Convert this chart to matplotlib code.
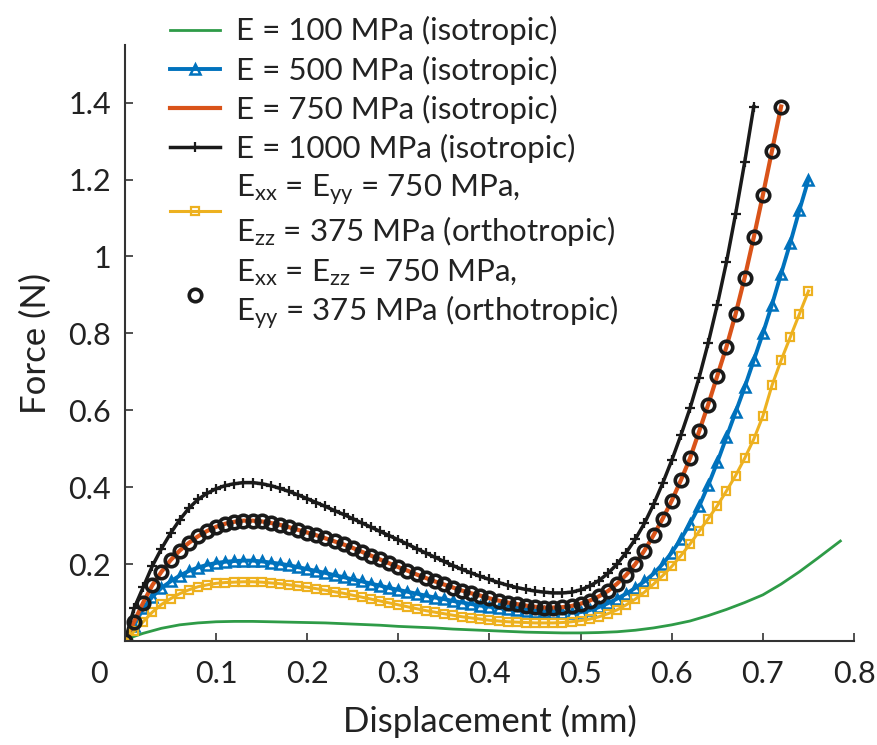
import matplotlib
matplotlib.use("Agg")
import matplotlib.pyplot as plt
import matplotlib.transforms as mtransforms

plt.rcParams['font.family'] = ['Lato', 'DejaVu Sans']
plt.rcParams['mathtext.default'] = 'regular'

# displacement grid (mm), read at 0.01 mm steps
x1000 = [round(0.01 * i, 2) for i in range(70)]
x750 = [round(0.01 * i, 2) for i in range(73)]
x500 = [round(0.01 * i, 2) for i in range(76)]
x_ortho = [round(0.01 * i, 2) for i in range(76)]

# E = 1000 MPa (isotropic)
f1000 = [0.0, 0.085, 0.14, 0.195, 0.24, 0.28, 0.315, 0.345, 0.368, 0.384,
         0.396, 0.404, 0.409, 0.412, 0.412, 0.409, 0.404, 0.397, 0.389, 0.380,
         0.370, 0.360, 0.350, 0.339, 0.329, 0.318, 0.307, 0.296, 0.285, 0.274,
         0.263, 0.252, 0.240, 0.229, 0.218, 0.207, 0.196, 0.186, 0.177, 0.168,
         0.160, 0.152, 0.145, 0.139, 0.134, 0.130, 0.127, 0.125, 0.125, 0.127,
         0.133, 0.143, 0.157, 0.176, 0.200, 0.230, 0.265, 0.306, 0.355, 0.41,
         0.47, 0.535, 0.605, 0.685, 0.775, 0.875, 0.985, 1.11, 1.245, 1.39]

# E = 750 MPa (isotropic) and Exx = Ezz = 750, Eyy = 375 (orthotropic)
f750 = [0.0, 0.05, 0.10, 0.145, 0.18, 0.21, 0.235, 0.255, 0.272, 0.286,
        0.297, 0.305, 0.310, 0.313, 0.313, 0.311, 0.307, 0.302, 0.296, 0.289,
        0.282, 0.275, 0.267, 0.259, 0.251, 0.242, 0.232, 0.222, 0.212, 0.202,
        0.192, 0.183, 0.173, 0.164, 0.155, 0.147, 0.139, 0.131, 0.124, 0.118,
        0.111, 0.105, 0.100, 0.096, 0.092, 0.089, 0.087, 0.087, 0.088, 0.091,
        0.097, 0.105, 0.116, 0.130, 0.149, 0.172, 0.200, 0.235, 0.275, 0.318,
        0.365, 0.418, 0.475, 0.545, 0.615, 0.69, 0.765, 0.85, 0.945, 1.05,
        1.16, 1.275, 1.39]

# E = 500 MPa (isotropic)
f500 = [0.0, 0.04, 0.085, 0.115, 0.138, 0.155, 0.17, 0.182, 0.191, 0.198,
        0.203, 0.206, 0.208, 0.209, 0.209, 0.207, 0.204, 0.201, 0.197, 0.192,
        0.187, 0.182, 0.177, 0.171, 0.166, 0.160, 0.155, 0.149, 0.144, 0.138,
        0.133, 0.128, 0.123, 0.118, 0.113, 0.109, 0.104, 0.100, 0.096, 0.092,
        0.089, 0.086, 0.083, 0.080, 0.078, 0.076, 0.075, 0.074, 0.074, 0.074,
        0.075, 0.08, 0.088, 0.098, 0.11, 0.123, 0.138, 0.155, 0.175, 0.2,
        0.23, 0.265, 0.305, 0.35, 0.405, 0.465, 0.53, 0.595, 0.66, 0.73,
        0.80, 0.875, 0.955, 1.035, 1.12, 1.20]

# Exx = Eyy = 750, Ezz = 375 (orthotropic)
f_ortho = [0.0, 0.025, 0.05, 0.075, 0.095, 0.11, 0.123, 0.133, 0.141, 0.146,
           0.150, 0.152, 0.153, 0.154, 0.154, 0.153, 0.151, 0.149, 0.146, 0.143,
           0.140, 0.136, 0.132, 0.128, 0.124, 0.119, 0.114, 0.109, 0.104, 0.099,
           0.094, 0.089, 0.084, 0.079, 0.075, 0.071, 0.067, 0.063, 0.060, 0.057,
           0.054, 0.052, 0.050, 0.049, 0.048, 0.047, 0.047, 0.047, 0.048, 0.050,
           0.053, 0.057, 0.063, 0.071, 0.081, 0.094, 0.109, 0.127, 0.148, 0.170,
           0.194, 0.222, 0.252, 0.285, 0.318, 0.352, 0.39, 0.43, 0.475, 0.525,
           0.585, 0.665, 0.73, 0.79, 0.85, 0.91]

# E = 100 MPa (isotropic)
x100 = [0.0, 0.01, 0.02, 0.04, 0.06, 0.08, 0.10, 0.12, 0.14, 0.16, 0.18, 0.20,
        0.22, 0.24, 0.26, 0.28, 0.30, 0.32, 0.34, 0.36, 0.38, 0.40, 0.42, 0.44,
        0.46, 0.48, 0.50, 0.52, 0.54, 0.56, 0.58, 0.60, 0.62, 0.64, 0.66, 0.68,
        0.70, 0.72, 0.74, 0.76, 0.785]
f100 = [0.0, 0.012, 0.02, 0.033, 0.042, 0.047, 0.05, 0.051, 0.051, 0.05, 0.049,
        0.048, 0.047, 0.045, 0.043, 0.041, 0.038, 0.036, 0.034, 0.031, 0.029,
        0.027, 0.025, 0.023, 0.022, 0.021, 0.021, 0.022, 0.024, 0.028, 0.034,
        0.042, 0.052, 0.066, 0.082, 0.1, 0.12, 0.148, 0.18, 0.215, 0.26]

labels = ['E = 100 MPa (isotropic)',
          'E = 500 MPa (isotropic)',
          'E = 750 MPa (isotropic)',
          'E = 1000 MPa (isotropic)',
          'E$_{xx}$ = E$_{yy}$ = 750 MPa,\nE$_{zz}$ = 375 MPa (orthotropic)',
          'E$_{xx}$ = E$_{zz}$ = 750 MPa,\nE$_{yy}$ = 375 MPa (orthotropic)']

fig = plt.figure(figsize=(8.77, 7.45), dpi=100)
ax = fig.add_axes([0.1425, 0.1396, 0.8313, 0.80])

ax.plot(x100, f100, color='#2e9b47', lw=2, label=labels[0])
ax.plot(x500, f500, color='#0072BD', lw=2.8, marker='^', ms=7.5, mfc='none',
        mew=1.8, label=labels[1])
ax.plot(x750, f750, color='#D95319', lw=3, label=labels[2])
ax.plot(x1000, f1000, color='#1a1a1a', lw=2.5, marker='+', ms=7, mew=1.6,
        label=labels[3])
ax.plot(x_ortho, f_ortho, color='#EDB120', lw=2.2, marker='s', ms=6,
        mfc='none', mew=1.6, label=labels[4])
ax.plot(x750, f750, ls='none', marker='o', ms=9, mfc='none', mec='#1a1a1a',
        mew=2.6, label=labels[5])

ax.set_xlim(0, 0.8)
ax.set_ylim(0, 1.55)
ax.set_xticks([0, 0.1, 0.2, 0.3, 0.4, 0.5, 0.6, 0.7, 0.8])
ax.set_xticklabels(['0', '0.1', '0.2', '0.3', '0.4', '0.5', '0.6', '0.7', '0.8'])
ax.set_yticks([0.2, 0.4, 0.6, 0.8, 1.0, 1.2, 1.4])
ax.set_yticklabels(['0.2', '0.4', '0.6', '0.8', '1', '1.2', '1.4'])
ax.tick_params(direction='in', length=6, width=1.2, color='#333333',
               labelsize=22, labelcolor='#222222')
ax.tick_params(axis='x', pad=14)
ax.tick_params(axis='y', pad=10)

# the "0" on the x axis sits left of its tick in the original
lab0 = ax.get_xticklabels()[0]
lab0.set_transform(lab0.get_transform() +
                   mtransforms.ScaledTranslation(-0.26, 0, fig.dpi_scale_trans))

for s in ['top', 'right']:
    ax.spines[s].set_visible(False)
for s in ['left', 'bottom']:
    ax.spines[s].set_linewidth(1.5)
    ax.spines[s].set_color('#333333')

ax.set_xlabel('Displacement (mm)', fontsize=25, color='#222222', labelpad=12)
ax.set_ylabel('Force (N)', fontsize=25, color='#222222', labelpad=12)

leg = ax.legend(loc='upper left', bbox_to_anchor=(0.194, 0.978),
                bbox_transform=fig.transFigure, frameon=False, fontsize=22.5,
                handlelength=1.6, handletextpad=0.5, borderpad=0,
                borderaxespad=0, labelspacing=0.32)
for t in leg.get_texts():
    t.set_color('#222222')

fig.savefig('out.png', dpi=100)
